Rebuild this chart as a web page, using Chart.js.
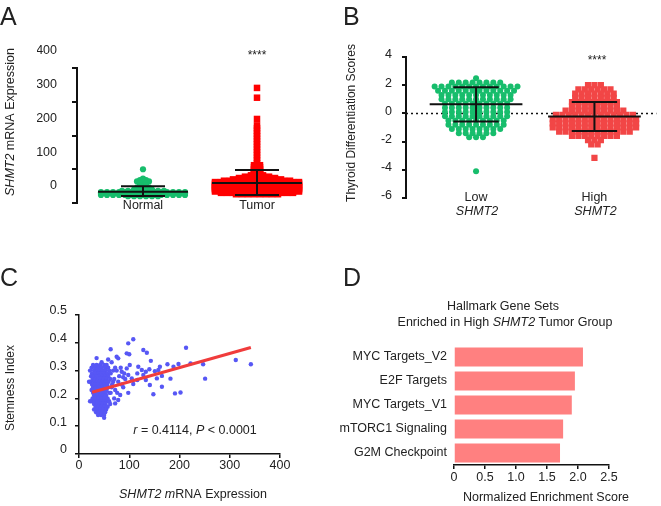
<!DOCTYPE html>
<html>
<head>
<meta charset="utf-8">
<script src="https://cdn.jsdelivr.net/npm/chart.js@4.4.1/dist/chart.umd.min.js"></script>
<style>
  body { margin: 0; background: #fff; }
  canvas { position: absolute; left: 0; top: 0; }
</style>
</head>
<body>
<canvas id="chartA" width="661" height="506"></canvas>
<canvas id="chartB" width="661" height="506"></canvas>
<canvas id="chartC" width="661" height="506"></canvas>
<canvas id="chartD" width="661" height="506"></canvas>
<script>
// ---- data ----
// A: SHMT2 mRNA expression, rows of the swarm (value level, number of samples)
const groupsA = ['Normal', 'Tumor'];
const normalLevels = [100, 72, 68, 64, 60, 52, 46, 40, 36, 32, 28, 24, 20];
const normalCounts = [1, 1, 2, 3, 2, 2, 3, 4, 8, 15, 15, 15, 6];
const tumorLevels = [341, 312, 249, 230, 222, 214, 206, 198, 190, 182, 174, 166, 158, 150, 142, 134, 126, 118,
  112, 106, 100, 95, 90, 86, 82, 78, 74, 70, 66, 62, 58, 54, 50, 46, 42, 38, 34, 30, 26];
const tumorCounts = [1, 1, 1, 1, 1, 1, 1, 1, 1, 1, 1, 1, 1, 1, 1, 1, 1, 1,
  2, 2, 2, 2, 2, 2, 3, 5, 7, 9, 12, 15, 15, 15, 15, 15, 15, 15, 15, 13, 8];
const meansA = [33, 59];
const lowerA = [21, 24];
const upperA = [50, 98];

// B: thyroid differentiation scores
const groupsB = ['Low', 'High'];
const lowLevels = [2.5, 2.2, 1.9, 1.6, 1.3, 1.0, 0.7, 0.4, 0.1, -0.2, -0.5, -0.8, -1.1, -1.4, -1.7, -4.1];
const lowCounts = [1, 8, 13, 12, 11, 11, 10, 10, 10, 10, 9, 9, 8, 6, 3, 1];
const highLevels = [2.0, 1.7, 1.4, 1.1, 0.8, 0.5, 0.2, -0.1, -0.4, -0.7, -1.0, -1.3, -1.6, -1.9, -2.2, -3.15];
const highCounts = [3, 6, 7, 7, 8, 8, 10, 13, 14, 14, 14, 12, 8, 3, 2, 1];
const meansB = [0.65, -0.22];
const lowerB = [-0.58, -1.25];
const upperB = [1.85, 0.8];
const refLevelB = 0;

// C: SHMT2 expression vs stemness index
const stemPoints = [
  [28,.32],[35,.32],[42,.32],[50,.32],[55,.32],
  [25,.31],[32,.31],[38,.31],[45,.31],[52,.31],[58,.31],
  [22,.30],[30,.30],[36,.30],[41,.30],[47,.30],[53,.30],[60,.30],
  [26,.29],[33,.29],[39,.29],[44,.29],[50,.29],[56,.29],[63,.29],
  [24,.28],[29,.28],[35,.28],[41,.28],[46,.28],[52,.28],[58,.28],
  [27,.27],[32,.27],[38,.27],[43,.27],[49,.27],[55,.27],[62,.27],
  [23,.26],[30,.26],[36,.26],[41,.26],[47,.26],[53,.26],[59,.26],
  [26,.25],[33,.25],[38,.25],[44,.25],[50,.25],[56,.25],
  [28,.24],[34,.24],[40,.24],[46,.24],[52,.24],[58,.24],[65,.24],
  [25,.23],[31,.23],[37,.23],[43,.23],[49,.23],[55,.23],
  [28,.22],[34,.22],[40,.22],[46,.22],[52,.22],[60,.22],
  [30,.21],[36,.21],[42,.21],[48,.21],[54,.21],
  [27,.20],[33,.20],[39,.20],[45,.20],[51,.20],[57,.20],
  [25,.19],[31,.19],[37,.19],[43,.19],[49,.19],[55,.19],
  [30,.18],[36,.18],[41,.18],[47,.18],[53,.18],[62,.18],
  [33,.17],[39,.17],[45,.17],[51,.17],[57,.17],
  [30,.16],[36,.16],[42,.16],[48,.16],[54,.16],
  [34,.15],[40,.15],[46,.15],[52,.15],
  [38,.14],[44,.14],[50,.14],[50,.13],
  [22,.19],[20,.26],[58,.34],[35,.345],[45,.33],[65,.33],[68,.30],[70,.27],[63,.22],[60,.19],[66,.25],[72,.31],
  [75,.30],[80,.28],[68,.26],[72,.23],[85,.25],[90,.29],[70,.20],[76,.22],[83,.31],[92,.27],
  [98,.398],[108,.413],[63,.377],[128,.374],[135,.364],[95,.362],[100,.359],[213,.382],[312,.338],[342,.323],
  [247,.323],[251,.271],[198,.324],[176,.323],[188,.314],[222,.326],[143,.335],[75,.35],[78,.344],[191,.218],
  [202,.221],[148,.215],[182,.271],[165,.281],[155,.272],[161,.314],[158,.302],[151,.298],[140,.305],[133,.296],
  [125,.302],[118,.314],[116,.29],[128,.284],[116,.266],[105,.272],[98,.284],[95,.308],[101,.32],[85,.296],
  [88,.276],[78,.26],[98,.22],[88,.24],[82,.212],[78,.194],[72,.182],[141,.248],[108,.252],[133,.266],[165,.242]
];
const regX = [26, 342];
const regY = [0.222, 0.383];

// D: hallmark gene sets
const geneSets = ['MYC Targets_V2', 'E2F Targets', 'MYC Targets_V1', 'mTORC1 Signaling', 'G2M Checkpoint'];
const nes = [2.08, 1.95, 1.90, 1.76, 1.71];

// ---- helpers ----
const FAMILY = '"Liberation Sans", Arial, sans-serif';
const INK = '#222';
const font = (size) => ({ family: FAMILY, size: size });

function xRange(area, c0, c1) {
  const unit = c1 - c0;
  const min = -(c0 - area.l) / unit;
  return { min: min, max: min + (area.r - area.l) / unit, unit: unit };
}

function swarm(levels, counts, center, step) {
  const pts = [];
  levels.forEach((v, i) => {
    const n = counts[i];
    for (let k = 0; k < n; k++) pts.push({ x: center + (k - (n - 1) / 2) * step, y: v });
  });
  return pts;
}

function errorBars(center, mean, lo, hi, meanHalf, capHalf) {
  return [
    { x: center - meanHalf, y: mean }, { x: center + meanHalf, y: mean }, { x: center, y: null },
    { x: center, y: lo }, { x: center, y: hi }, { x: center, y: null },
    { x: center - capHalf, y: hi }, { x: center + capHalf, y: hi }, { x: center, y: null },
    { x: center - capHalf, y: lo }, { x: center + capHalf, y: lo }
  ];
}

function drawRich(ctx, it) {
  ctx.save();
  ctx.translate(it.x, it.y);
  if (it.rot) ctx.rotate(it.rot);
  ctx.fillStyle = INK;
  ctx.textBaseline = it.base || 'middle';
  ctx.textAlign = 'left';
  const size = it.size || 12.5;
  const f = p => (p.i ? 'italic ' : '') + size + 'px ' + FAMILY;
  let total = 0;
  it.parts.forEach(p => { ctx.font = f(p); total += ctx.measureText(p.t).width; });
  let x = it.align === 'left' ? 0 : -total / 2;
  it.parts.forEach(p => { ctx.font = f(p); ctx.fillText(p.t, x, 0); x += ctx.measureText(p.t).width; });
  ctx.restore();
}

// fixed texts, plus group names placed under each group through the x scale
const textPlugin = (items, groups) => ({
  id: 'richText',
  afterDraw(chart) {
    items.forEach(it => drawRich(chart.ctx, it));
    if (groups) {
      const xs = chart.scales.x;
      groups.names.forEach((name, i) => {
        drawRich(chart.ctx, { x: xs.getPixelForValue(i), y: groups.y, parts: [{ t: name }] });
        if (groups.sub) drawRich(chart.ctx, { x: xs.getPixelForValue(i) + 1, y: groups.y + 14, parts: [{ t: groups.sub, i: true }] });
      });
    }
  }
});

const base = {
  responsive: false,
  animation: false,
  devicePixelRatio: 1,
  plugins: { legend: { display: false }, tooltip: { enabled: false } }
};

const GREEN = '#17bd6c';
const RED_A = '#ff0000';
const RED_B = '#f24646';
const BLUE = '#5757f5';

// ---- A ----
const areaA = { l: 77, t: 68, r: 317, b: 203 };
const rA = xRange(areaA, 143, 257);
const pxA = 1 / rA.unit;

new Chart(document.getElementById('chartA'), {
  type: 'scatter',
  data: {
    datasets: [0, 1].map(g => ({
      data: errorBars(g, meansA[g], lowerA[g], upperA[g], 45 * pxA, 22 * pxA),
      showLine: true, spanGaps: false, borderColor: '#111', borderWidth: 2, pointRadius: 0
    })).concat([
      { data: swarm(normalLevels, normalCounts, 0, 6 * pxA), pointStyle: 'circle', pointRadius: 3.1,
        backgroundColor: GREEN, borderWidth: 0 },
      { data: swarm(tumorLevels, tumorCounts, 1, 6 * pxA), pointStyle: 'rect', pointRadius: 4.6,
        backgroundColor: RED_A, borderWidth: 0 }
    ])
  },
  options: Object.assign({}, base, {
    layout: { padding: { left: areaA.l - 40, top: areaA.t, right: 661 - areaA.r, bottom: 506 - areaA.b } },
    scales: {
      x: { type: 'linear', min: rA.min, max: rA.max, display: false },
      y: {
        min: 0, max: 400,
        afterFit: s => { s.width = 40; },
        ticks: { stepSize: 100, labelOffset: -17, padding: 15, font: font(12.5), color: INK },
        grid: { drawOnChartArea: false, tickLength: 5, color: '#111', lineWidth: 2 },
        border: { color: '#111', width: 2 }
      }
    }
  }),
  plugins: [textPlugin([
    { x: 0, y: 25, base: 'alphabetic', size: 25, align: 'left', parts: [{ t: 'A' }] },
    { x: 11, y: 122, rot: -Math.PI / 2, parts: [{ t: 'SHMT2', i: true }, { t: ' mRNA Expression' }] },
    { x: 257, y: 56, size: 12, parts: [{ t: '****' }] }
  ], { names: groupsA, y: 206 })]
});

// ---- B ----
const areaB = { l: 406, t: 57, r: 660, b: 198 };
const rB = xRange(areaB, 477, 597);
const pxB = 1 / rB.unit;

new Chart(document.getElementById('chartB'), {
  type: 'scatter',
  data: {
    datasets: [0, 1].map(g => ({
      data: errorBars(g, meansB[g], lowerB[g], upperB[g], 47 * pxB, 23 * pxB),
      showLine: true, spanGaps: false, borderColor: '#111', borderWidth: 2, pointRadius: 0
    })).concat([
      { data: swarm(lowLevels, lowCounts, 0, 7 * pxB), pointStyle: 'circle', pointRadius: 3.0,
        backgroundColor: GREEN, borderWidth: 0 },
      { data: swarm(highLevels, highCounts, 1, 6.5 * pxB), pointStyle: 'rect', pointRadius: 4.4,
        backgroundColor: RED_B, borderWidth: 0 },
      { data: [{ x: rB.min, y: refLevelB }, { x: rB.max, y: refLevelB }], showLine: true,
        borderColor: '#111', borderWidth: 1.5, borderDash: [2, 3], pointRadius: 0 }
    ])
  },
  options: Object.assign({}, base, {
    layout: { padding: { left: areaB.l - 40, top: areaB.t, right: 661 - areaB.r, bottom: 506 - areaB.b } },
    scales: {
      x: { type: 'linear', min: rB.min, max: rB.max, display: false },
      y: {
        min: -6, max: 4,
        afterFit: s => { s.width = 40; },
        ticks: { stepSize: 2, labelOffset: -2, padding: 10, font: font(12.5), color: INK },
        grid: { drawOnChartArea: false, tickLength: 4, color: '#111', lineWidth: 2 },
        border: { color: '#111', width: 2 }
      }
    }
  }),
  plugins: [textPlugin([
    { x: 343, y: 25, base: 'alphabetic', size: 25, align: 'left', parts: [{ t: 'B' }] },
    { x: 352, y: 123, rot: -Math.PI / 2, size: 12, parts: [{ t: 'Thyroid Differentiation Scores' }] },
    { x: 597, y: 61, size: 12, parts: [{ t: '****' }] }
  ], { names: groupsB, y: 198, sub: 'SHMT2' })]
});

// ---- C ----
const areaC = { l: 79, t: 315, r: 280, b: 454 };

new Chart(document.getElementById('chartC'), {
  type: 'scatter',
  data: {
    datasets: [
      { data: regX.map((x, i) => ({ x: x, y: regY[i] })), showLine: true, borderColor: '#f03c3c',
        borderWidth: 3, pointRadius: 0 },
      { data: stemPoints.map(p => ({ x: p[0], y: p[1] })), pointRadius: 2.2, backgroundColor: BLUE, borderWidth: 0 }
    ]
  },
  options: Object.assign({}, base, {
    layout: { padding: { left: areaC.l - 40, top: areaC.t, right: 661 - areaC.r, bottom: 506 - areaC.b - 22 } },
    scales: {
      x: {
        type: 'linear', min: 0, max: 400,
        afterFit: s => { s.height = 22; },
        ticks: { stepSize: 100, font: font(12.5), color: INK, padding: 0, maxRotation: 0 },
        grid: { drawOnChartArea: false, tickLength: 4, color: '#111', lineWidth: 1.5 },
        border: { color: '#111', width: 1.5 }
      },
      y: {
        min: 0, max: 0.5,
        afterFit: s => { s.width = 40; },
        ticks: { stepSize: 0.1, labelOffset: -4, padding: 8, font: font(12.5), color: INK,
          callback: v => v === 0 ? '0' : v.toFixed(1) },
        grid: { drawOnChartArea: false, tickLength: 4, color: '#111', lineWidth: 1.5 },
        border: { color: '#111', width: 1.5 }
      }
    }
  }),
  plugins: [textPlugin([
    { x: 0, y: 286, base: 'alphabetic', size: 25, align: 'left', parts: [{ t: 'C' }] },
    { x: 11, y: 388, rot: -Math.PI / 2, size: 12, parts: [{ t: 'Stemness Index' }] },
    { x: 193, y: 495, parts: [{ t: 'SHMT2', i: true }, { t: ' ' }, { t: 'm', i: true }, { t: 'RNA Expression' }] },
    { x: 195, y: 431, parts: [{ t: 'r', i: true }, { t: ' = 0.4114, ' }, { t: 'P', i: true }, { t: ' < 0.0001' }] }
  ])]
});

// ---- D ----
const areaD = { l: 454, t: 345, r: 609, b: 465 };

new Chart(document.getElementById('chartD'), {
  type: 'bar',
  data: {
    labels: geneSets,
    datasets: [{ data: nes, backgroundColor: '#ff8080', barPercentage: 0.79, categoryPercentage: 1 }]
  },
  options: Object.assign({}, base, {
    indexAxis: 'y',
    layout: { padding: { left: areaD.l - 140, top: areaD.t, right: 661 - areaD.r, bottom: 506 - areaD.b - 22 } },
    scales: {
      x: {
        min: 0, max: 2.5,
        afterFit: s => { s.height = 22; },
        ticks: { stepSize: 0.5, font: font(12.5), color: INK, padding: 1, maxRotation: 0,
          callback: v => v === 0 ? '0' : v.toFixed(1) },
        grid: { drawOnChartArea: false, tickLength: 4, color: '#111', lineWidth: 1.5 },
        border: { color: '#111', width: 1.5 }
      },
      y: {
        afterFit: s => { s.width = 140; },
        ticks: { font: font(12.5), color: INK, padding: -1 },
        grid: { display: false }, border: { display: false }
      }
    }
  }),
  plugins: [textPlugin([
    { x: 343, y: 286, base: 'alphabetic', size: 25, align: 'left', parts: [{ t: 'D' }] },
    { x: 503, y: 307, parts: [{ t: 'Hallmark Gene Sets' }] },
    { x: 505, y: 323, parts: [{ t: 'Enriched in High ' }, { t: 'SHMT2', i: true }, { t: ' Tumor Group' }] },
    { x: 546, y: 498, parts: [{ t: 'Normalized Enrichment Score' }] }
  ])]
});
</script>
</body>
</html>
